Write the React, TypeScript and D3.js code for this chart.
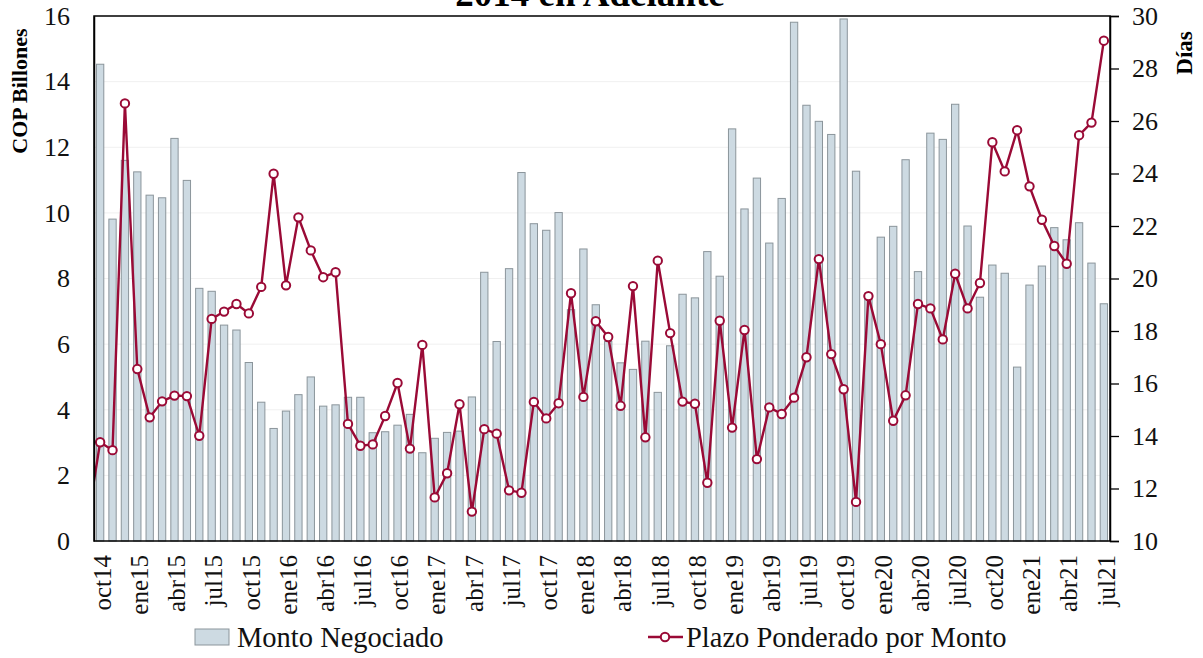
import * as React from 'react';
import { axisLeft, axisRight, line, scaleBand, scaleLinear, select } from 'd3';

// monthly series, oct14 .. jul21
const monthNames = ['ene', 'feb', 'mar', 'abr', 'may', 'jun', 'jul', 'ago', 'sep', 'oct', 'nov', 'dic'];
const months: string[] = [];
for (let y = 14; y <= 21; y++) {
    monthNames.forEach((m, k) => {
        if ((y === 14 && k < 9) || (y === 21 && k > 6)) return;
        months.push(m + y);
    });
}

// COP billones
const monto = [
    14.53, 9.81, 11.6, 11.25, 10.54, 10.46, 12.27, 10.99, 7.70, 7.61,
    6.58, 6.43, 5.44, 4.23, 3.43, 3.96, 4.46, 5.0, 4.11, 4.15,
    4.38, 4.38, 3.30, 3.33, 3.53, 3.86, 2.69, 3.13, 3.31, 3.35,
    4.39, 8.19, 6.08, 8.30, 11.23, 9.67, 9.47, 10.01, 7.05, 8.90,
    7.20, 6.08, 5.43, 5.23, 6.09, 4.53, 5.95, 7.52, 7.41, 8.82,
    8.07, 12.56, 10.12, 11.06, 9.08, 10.44, 15.81, 13.28, 12.79, 12.39,
    15.91, 11.27, 7.55, 9.26, 9.59, 11.62, 8.21, 12.43, 12.24, 13.31,
    9.60, 7.43, 8.41, 8.16, 5.30, 7.80, 8.38, 9.55, 9.18, 9.70,
    8.47, 7.23
];

// días
const plazo = [
    13.76, 13.46, 26.67, 16.55, 14.71, 15.32, 15.54, 15.52, 14.01, 18.46,
    18.74, 19.03, 18.67, 19.68, 23.99, 19.74, 22.33, 21.07, 20.05, 20.24,
    14.46, 13.63, 13.68, 14.76, 16.02, 13.52, 17.47, 11.66, 12.58, 15.21,
    11.12, 14.26, 14.09, 11.93, 11.84, 15.30, 14.67, 15.25, 19.44, 15.49,
    18.37, 17.77, 15.15, 19.71, 13.95, 20.68, 17.92, 15.31, 15.23, 12.22,
    18.39, 14.32, 18.04, 13.12, 15.09, 14.84, 15.46, 17.0, 20.74, 17.12,
    15.78, 11.49, 19.33, 17.50, 14.58, 15.55, 19.03, 18.86, 17.68, 20.18,
    18.86, 19.83, 25.19, 24.08, 25.65, 23.51, 22.24, 21.24, 20.56, 25.46,
    25.94, 29.06
];
// sep14, only the tail of it enters the frame
const plazoPrev = 10.8;

const leftTicks = [0, 2, 4, 6, 8, 10, 12, 14, 16];
const rightTicks = [10, 12, 14, 16, 18, 20, 22, 24, 26, 28, 30];

const W = 1203, H = 658;
const margin = { top: 16, right: 93, bottom: 117, left: 94 };
const serif = '"Liberation Serif", "Times New Roman", serif';
const barFill = '#cddae2';
const barStroke = '#8b959b';
const lineColor = '#9a0a36';

const App = () => {
    const svgRef = React.useRef<SVGSVGElement>(null);

    React.useEffect(() => {
        const svg = select(svgRef.current);
        svg.selectAll('*').remove();

        const x0 = margin.left, x1 = W - margin.right;
        const y0 = H - margin.bottom, y1 = margin.top;

        const xScale = scaleBand().domain(months).range([x0, x1]).paddingInner(0.41).paddingOuter(0.2);
        const yLeft = scaleLinear().domain([0, 16]).range([y0, y1]);
        const yRight = scaleLinear().domain([10, 30]).range([y0, y1]);
        const step = xScale.step();
        const cx = (i: number) => (xScale(months[0]) || 0) + xScale.bandwidth() / 2 + i * step;

        svg.append('clipPath').attr('id', 'plotclip')
            .append('rect').attr('x', x0).attr('y', y1).attr('width', x1 - x0).attr('height', y0 - y1);

        // faint grid
        svg.append('g').selectAll('line')
            .data(leftTicks.slice(1, -1))
            .join('line')
            .attr('x1', x0).attr('x2', x1)
            .attr('y1', (d) => yLeft(d)).attr('y2', (d) => yLeft(d))
            .attr('stroke', '#f0f0f0').attr('stroke-width', 1);

        // bars
        svg.append('g').selectAll('rect')
            .data(monto)
            .join('rect')
            .attr('x', (d, i) => xScale(months[i]) || 0)
            .attr('y', (d) => yLeft(d))
            .attr('width', xScale.bandwidth())
            .attr('height', (d) => yLeft(0) - yLeft(d))
            .attr('fill', barFill)
            .attr('stroke', barStroke)
            .attr('stroke-width', 1);

        // line
        const pts: [number, number][] = [[cx(-1), yRight(plazoPrev)], ...plazo.map((v, i) => [cx(i), yRight(v)] as [number, number])];
        svg.append('path')
            .attr('clip-path', 'url(#plotclip)')
            .attr('d', line()(pts))
            .attr('fill', 'none')
            .attr('stroke', lineColor)
            .attr('stroke-width', 2.4);
        svg.append('g').selectAll('circle')
            .data(plazo)
            .join('circle')
            .attr('cx', (d, i) => cx(i))
            .attr('cy', (d) => yRight(d))
            .attr('r', 4.2)
            .attr('fill', '#fff')
            .attr('stroke', lineColor)
            .attr('stroke-width', 2);

        // frame
        svg.append('rect')
            .attr('x', x0).attr('y', y1).attr('width', x1 - x0).attr('height', y0 - y1)
            .attr('fill', 'none').attr('stroke', '#000').attr('stroke-width', 1.5);

        // axes
        const left = svg.append('g').attr('transform', `translate(${x0},0)`)
            .call(axisLeft(yLeft).tickValues(leftTicks).tickSize(0).tickPadding(24) as any);
        const right = svg.append('g').attr('transform', `translate(${x1},0)`)
            .call(axisRight(yRight).tickValues(rightTicks).tickSize(9).tickPadding(13) as any);
        [left, right].forEach((g) => {
            g.select('.domain').attr('stroke', '#000').attr('stroke-width', 1.5);
            g.selectAll('.tick line').attr('stroke', '#000').attr('stroke-width', 1.3);
            g.selectAll('.tick text').attr('font-family', serif).attr('font-size', 26).attr('fill', '#111');
        });

        // x labels every 3 months
        svg.append('g').selectAll('text')
            .data(months.filter((m, i) => i % 3 === 0))
            .join('text')
            .attr('transform', (d) => `translate(${cx(months.indexOf(d)) + 2},${y0 + 14}) rotate(-90)`)
            .attr('text-anchor', 'end')
            .attr('dy', '0.35em')
            .attr('font-family', serif)
            .attr('font-size', 25)
            .attr('fill', '#111')
            .text((d) => d);

        // axis titles
        svg.append('text')
            .attr('transform', 'translate(27,91) rotate(-90)')
            .attr('text-anchor', 'middle')
            .attr('font-family', serif).attr('font-weight', 'bold').attr('font-size', 22)
            .text('COP Billones');
        svg.append('text')
            .attr('transform', 'translate(1192,53) rotate(-90)')
            .attr('text-anchor', 'middle')
            .attr('font-family', serif).attr('font-weight', 'bold').attr('font-size', 23)
            .text('Días');

        // title (top line is cut off by the image)
        svg.append('text')
            .attr('x', 590).attr('y', 6)
            .attr('text-anchor', 'middle')
            .attr('font-family', serif).attr('font-weight', 'bold').attr('font-size', 37)
            .text('2014 en Adelante');

        // legend
        const lg = svg.append('g');
        lg.append('rect').attr('x', 195).attr('y', 629).attr('width', 34).attr('height', 16)
            .attr('fill', barFill).attr('stroke', barStroke).attr('stroke-width', 1);
        lg.append('text').attr('x', 237).attr('y', 647)
            .attr('font-family', serif).attr('font-size', 28.5).attr('fill', '#111')
            .text('Monto Negociado');
        lg.append('line').attr('x1', 648).attr('x2', 683).attr('y1', 637).attr('y2', 637)
            .attr('stroke', lineColor).attr('stroke-width', 2.4);
        lg.append('circle').attr('cx', 665).attr('cy', 637).attr('r', 4.2)
            .attr('fill', '#fff').attr('stroke', lineColor).attr('stroke-width', 2);
        lg.append('text').attr('x', 686).attr('y', 647)
            .attr('font-family', serif).attr('font-size', 28.5).attr('fill', '#111')
            .text('Plazo Ponderado por Monto');
    }, []);

    return (
        <svg ref={svgRef} width={W} height={H}
            style={{ position: 'absolute', left: 0, top: 0, background: '#fff' }} />
    );
};

export default App;
